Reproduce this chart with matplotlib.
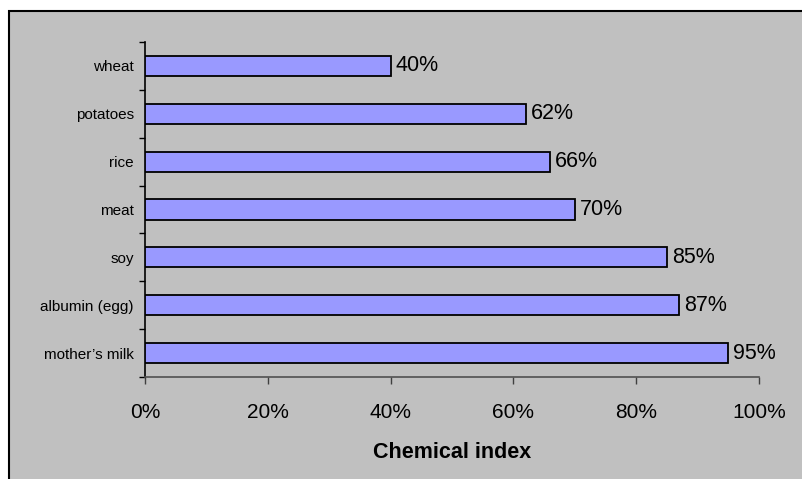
import matplotlib.pyplot as plt
from matplotlib.patches import Rectangle
from matplotlib.ticker import FixedLocator, NullFormatter

plt.rcParams['font.family'] = ['Liberation Sans', 'DejaVu Sans']

# Chemical index of protein sources, bottom to top
foods = ["mother\u2019s milk", "albumin (egg)", "soy", "meat", "rice", "potatoes", "wheat"]
index_pct = [95, 87, 85, 70, 66, 62, 40]
x_ticks = [0, 20, 40, 60, 80, 100]

W, H = 803, 479
fig = plt.figure(figsize=(W / 100, H / 100), dpi=100)
fig.patch.set_facecolor('white')

# grey chart area with a black frame
fig.patches.append(Rectangle((9 / W, -0.05), 1.1, 1 - 11 / H + 0.05, transform=fig.transFigure,
                             facecolor='#C0C0C0', edgecolor='black', linewidth=1.5, zorder=-5))

ax = fig.add_axes([145 / W, 1 - 377 / H, (759 - 145) / W, (377 - 42) / H])
ax.set_zorder(2)
ax.set_facecolor('none')

pos = list(range(len(foods)))
ax.barh(pos, index_pct, height=0.42, color='#9999FF', edgecolor='black', linewidth=1.3, zorder=3)

for y, v in zip(pos, index_pct):
    ax.text(v + 0.8, y, f"{v}%", va='center', ha='left', fontsize=15.5, zorder=4)

ax.set_xlim(0, 100)
ax.set_ylim(-0.5, len(foods) - 0.5)

ax.set_xticks(x_ticks)
ax.set_xticklabels([f"{t}%" for t in x_ticks], fontsize=15)
ax.tick_params(axis='x', direction='out', length=5, width=1, color='#404040', pad=14)

ax.set_yticks(pos)
ax.set_yticklabels(foods, fontsize=11)
ax.tick_params(axis='y', which='major', length=0, pad=8)
ax.yaxis.set_minor_locator(FixedLocator([p - 0.5 for p in range(len(foods) + 1)]))
ax.yaxis.set_minor_formatter(NullFormatter())
ax.tick_params(axis='y', which='minor', direction='out', length=4, width=1, color='black')

ax.spines['top'].set_visible(False)
ax.spines['right'].set_visible(False)
ax.spines['left'].set_color('black')
ax.spines['left'].set_linewidth(1.2)
ax.spines['bottom'].set_color('#505050')
ax.spines['bottom'].set_linewidth(1.2)

ax.set_xlabel("Chemical index", fontsize=15.5, fontweight='bold', labelpad=14)

fig.savefig('out.png', dpi=100)
